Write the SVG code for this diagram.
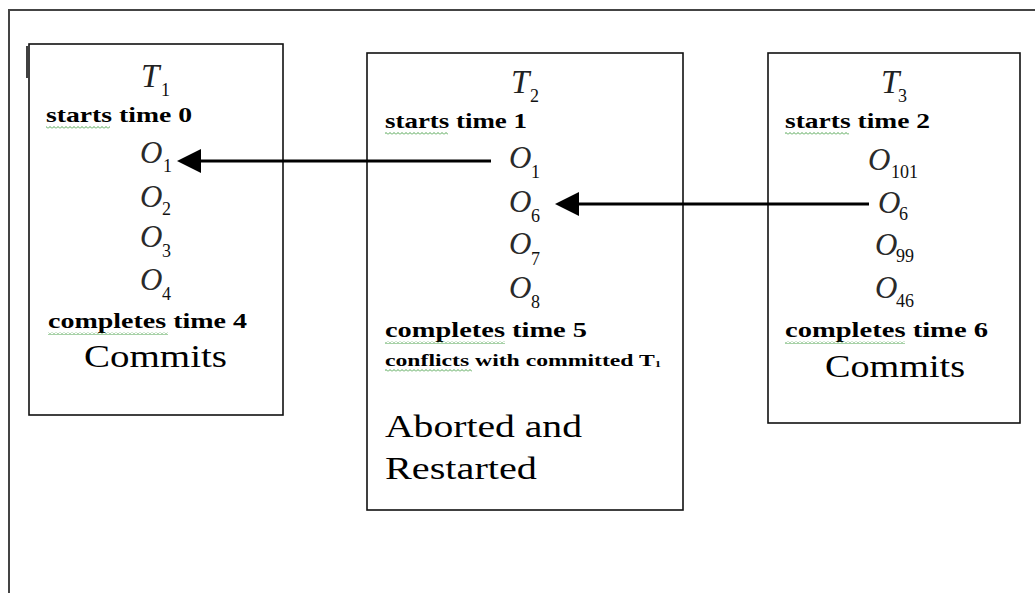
<svg xmlns="http://www.w3.org/2000/svg" width="1035" height="593" viewBox="0 0 1035 593">
  <style>
    .box { fill: #ffffff; stroke: #111111; stroke-width: 1.6; }
    .frame { fill: none; stroke: #444444; stroke-width: 2; }
    .lbl { font-family: "Liberation Serif", "Times New Roman", serif; font-weight: bold; font-size: 22px; fill: #000; }
    .small { font-family: "Liberation Serif", "Times New Roman", serif; font-weight: bold; font-size: 17px; fill: #000; }
    .big { font-family: "Liberation Serif", "Times New Roman", serif; font-size: 31px; fill: #000; }
    .var { font-family: "Liberation Serif", "Times New Roman", serif; font-style: italic; font-size: 33px; fill: #222; }
    .obj { font-family: "Liberation Serif", "Times New Roman", serif; font-style: italic; font-size: 31px; fill: #2a2a2a; }
    .sub { font-family: "Liberation Serif", "Times New Roman", serif; font-size: 18px; fill: #111; }
    .conn { stroke: #000; stroke-width: 3; fill: none; }
  </style>
  <defs>
    <!-- filled triangular head; tip sits 20px beyond the line end -->
    <marker id="head" viewBox="0 0 24 24" refX="4" refY="12" markerWidth="24" markerHeight="24" markerUnits="userSpaceOnUse" orient="auto">
      <path d="M24,12 L0,0 L0,24 Z" fill="#000"/>
    </marker>
    <!-- wavy spell-check underline -->
    <pattern id="squiggle" width="4" height="3" patternUnits="userSpaceOnUse">
      <path d="M0,2.5 L2,0.5 L4,2.5" fill="none" stroke="#3c9a3c" stroke-width="0.9"/>
    </pattern>
  </defs>

  <rect width="1035" height="593" fill="#ffffff"/>

  <!-- open outer frame: top and left edges only -->
  <path class="frame" d="M9,593 L9,10 L1035,10"/>

  <!-- transaction T1 -->
  <g id="t1">
    <rect class="box" x="29" y="44" width="254" height="371"/>
    <path d="M27,46 L27,78" stroke="#111" stroke-width="1.6"/>
    <text class="var" x="141" y="87">T</text>
    <text class="sub" x="161" y="96">1</text>
    <text class="lbl" x="46" y="122" textLength="146" lengthAdjust="spacingAndGlyphs">starts time 0</text>
    <rect x="46" y="126" width="64" height="3" fill="url(#squiggle)"/>
    <text class="obj" x="140" y="163">O</text><text class="sub" x="163" y="172">1</text>
    <text class="obj" x="140" y="207">O</text><text class="sub" x="162" y="215">2</text>
    <text class="obj" x="140" y="247">O</text><text class="sub" x="162" y="257">3</text>
    <text class="obj" x="140" y="290">O</text><text class="sub" x="162" y="300">4</text>
    <text class="lbl" x="48" y="328" textLength="199" lengthAdjust="spacingAndGlyphs">completes time 4</text>
    <rect x="48" y="332" width="120" height="3" fill="url(#squiggle)"/>
    <text class="big" x="84" y="367" textLength="143" lengthAdjust="spacingAndGlyphs">Commits</text>
  </g>

  <!-- transaction T2 -->
  <g id="t2">
    <rect class="box" x="367" y="53" width="316" height="457"/>
    <text class="var" x="511" y="93">T</text>
    <text class="sub" x="530" y="102">2</text>
    <text class="lbl" x="385" y="128" textLength="142" lengthAdjust="spacingAndGlyphs">starts time 1</text>
    <rect x="385" y="132" width="63" height="3" fill="url(#squiggle)"/>
    <text class="obj" x="509" y="168">O</text><text class="sub" x="531" y="178">1</text>
    <text class="obj" x="509" y="212">O</text><text class="sub" x="531" y="222">6</text>
    <text class="obj" x="509" y="254">O</text><text class="sub" x="531" y="265">7</text>
    <text class="obj" x="509" y="298">O</text><text class="sub" x="531" y="308">8</text>
    <text class="lbl" x="385" y="337" textLength="202" lengthAdjust="spacingAndGlyphs">completes time 5</text>
    <rect x="385" y="341" width="120" height="3" fill="url(#squiggle)"/>
    <text class="small" x="385" y="366" textLength="276" lengthAdjust="spacingAndGlyphs">conflicts with committed T<tspan font-size="9" dy="1">1</tspan></text>
    <rect x="385" y="369" width="87" height="3" fill="url(#squiggle)"/>
    <text class="big" x="385" y="437" textLength="197" lengthAdjust="spacingAndGlyphs">Aborted and</text>
    <text class="big" x="385" y="479" textLength="152" lengthAdjust="spacingAndGlyphs">Restarted</text>
  </g>

  <!-- transaction T3 -->
  <g id="t3">
    <rect class="box" x="768" y="53" width="252" height="370"/>
    <text class="var" x="881" y="93">T</text>
    <text class="sub" x="898" y="102">3</text>
    <text class="lbl" x="785" y="128" textLength="145" lengthAdjust="spacingAndGlyphs">starts time 2</text>
    <rect x="785" y="132" width="64" height="3" fill="url(#squiggle)"/>
    <text class="obj" x="868" y="170">O</text><text class="sub" x="891" y="178">101</text>
    <text class="obj" x="878" y="213">O</text><text class="sub" x="899" y="220">6</text>
    <text class="obj" x="875" y="255">O</text><text class="sub" x="896" y="262">99</text>
    <text class="obj" x="875" y="298">O</text><text class="sub" x="896" y="307">46</text>
    <text class="lbl" x="785" y="337" textLength="203" lengthAdjust="spacingAndGlyphs">completes time 6</text>
    <rect x="785" y="341" width="120" height="3" fill="url(#squiggle)"/>
    <text class="big" x="825" y="377" textLength="140" lengthAdjust="spacingAndGlyphs">Commits</text>
  </g>

  <!-- conflict arrows between shared objects -->
  <g id="connectors">
    <line class="conn" x1="491" y1="161" x2="197" y2="161" marker-end="url(#head)"/>
    <line class="conn" x1="869" y1="204" x2="575" y2="204" marker-end="url(#head)"/>
  </g>
</svg>
